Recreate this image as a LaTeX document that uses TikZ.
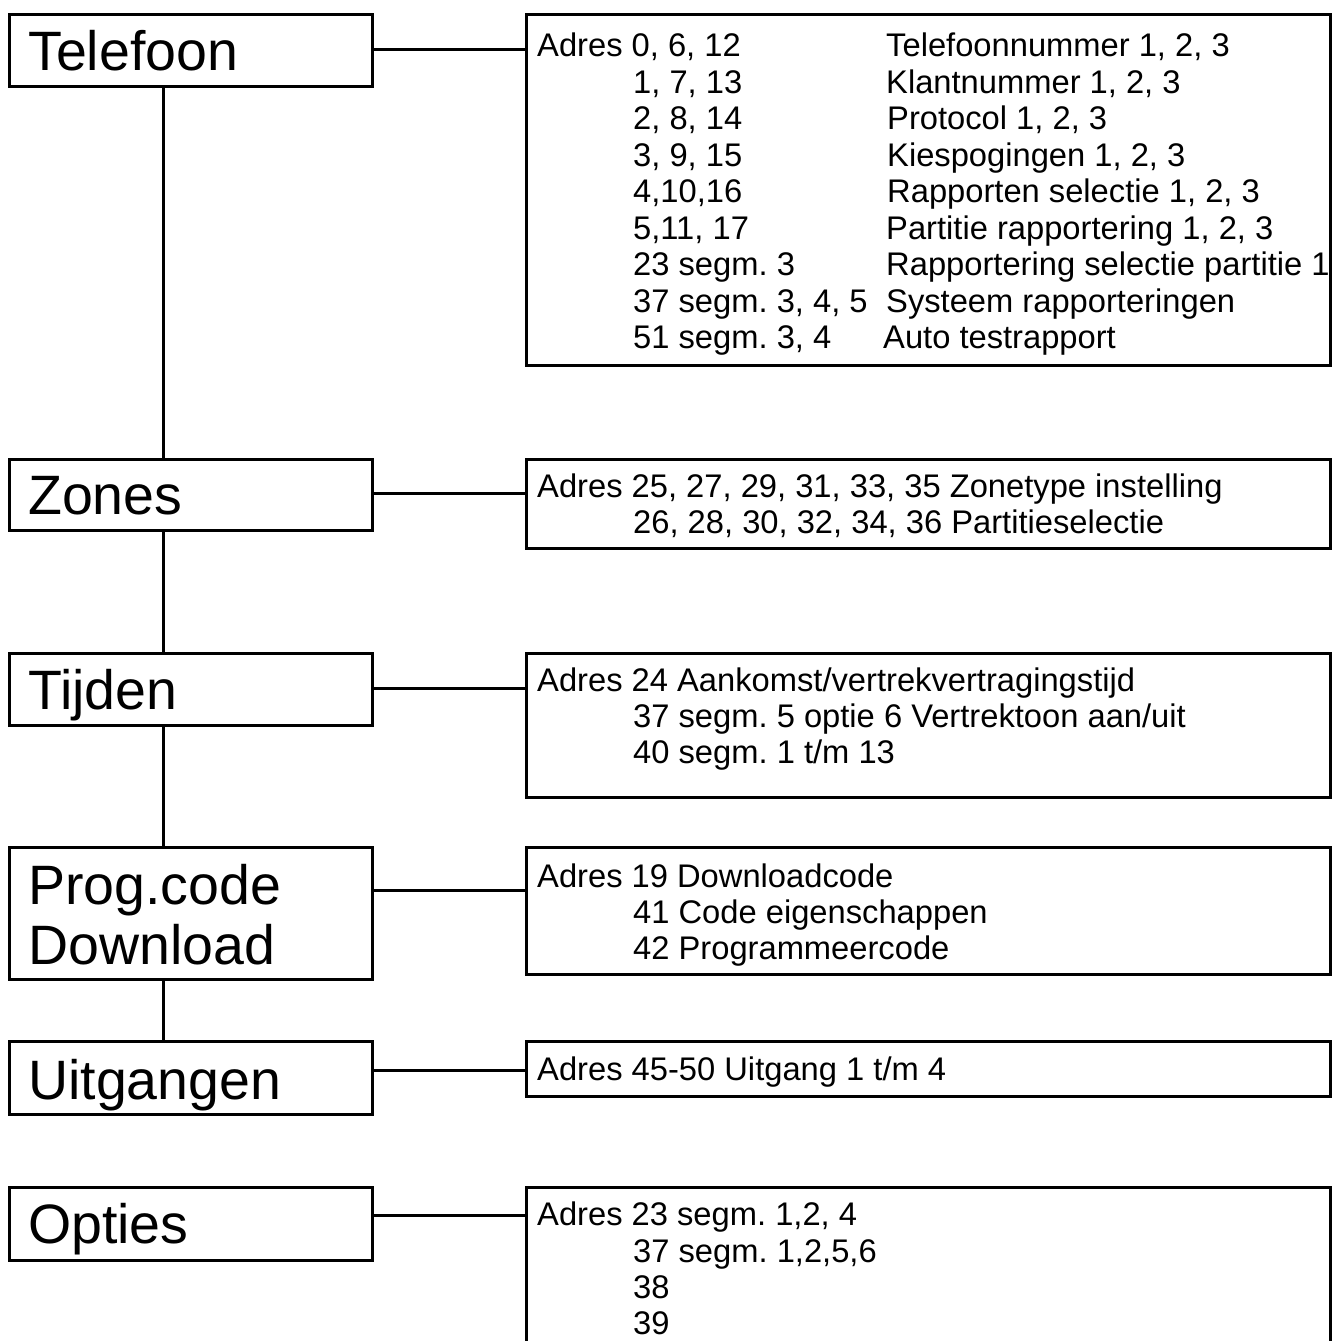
\documentclass[tikz,border=0pt]{standalone}
\usepackage{fontspec}
\setmainfont{Liberation Sans}
\frenchspacing
\begin{document}
\begin{tikzpicture}[x=1pt,y=-1pt,
  box/.style={draw,line width=3pt,inner sep=0pt,anchor=north west},
  conn/.style={line width=3pt},
  big/.style={font=\fontsize{55.5}{60}\selectfont,inner sep=0pt,anchor=base west},
  txt/.style={font=\fontsize{32.7}{36}\selectfont,inner sep=0pt,anchor=base west}]
\useasboundingbox[fill=white] (0,0) rectangle (1337,1341);
% left boxes
\node[box,minimum width=363pt,minimum height=72pt] (tel) at (8,13) {};
\node[box,minimum width=363pt,minimum height=71pt] (zon) at (8,458) {};
\node[box,minimum width=363pt,minimum height=72pt] (tij) at (8,652) {};
\node[box,minimum width=363pt,minimum height=132pt] (prg) at (8,846) {};
\node[box,minimum width=363pt,minimum height=73pt] (uit) at (8,1040) {};
\node[box,minimum width=363pt,minimum height=73pt] (opt) at (8,1186) {};
% right boxes
\node[box,minimum width=804pt,minimum height=351pt] (telr) at (525,13) {};
\node[box,minimum width=804pt,minimum height=89pt] (zonr) at (525,458) {};
\node[box,minimum width=804pt,minimum height=144pt] (tijr) at (525,652) {};
\node[box,minimum width=804pt,minimum height=127pt] (prgr) at (525,846) {};
\node[box,minimum width=804pt,minimum height=55pt] (uitr) at (525,1040) {};
\node[box,minimum width=804pt,minimum height=200pt] (optr) at (525,1186) {};
% left labels
\node[big] (ltel) at (28,70) {Telefoon};
\node[big] (lzon) at (28,514) {Zones};
\node[big] (ltij) at (28,709) {Tijden};
\node[big] (lprg1) at (28,904) {Prog.code};
\node[big] (lprg2) at (28,964) {Download};
\node[big] (luit) at (28,1099) {Uitgangen};
\node[big] (lopt) at (28,1243) {Opties};
% vertical connectors
\draw[conn] ([xshift=155pt]tel.south west) -- ([xshift=155pt]zon.north west);
\draw[conn] ([xshift=155pt]zon.south west) -- ([xshift=155pt]tij.north west);
\draw[conn] ([xshift=155pt]tij.south west) -- ([xshift=155pt]prg.north west);
\draw[conn] ([xshift=155pt]prg.south west) -- ([xshift=155pt]uit.north west);
% horizontal connectors
\draw[conn] ([yshift=-36pt]tel.north east) -- ([yshift=-36pt]telr.north west);
\draw[conn] ([yshift=-35pt]zon.north east) -- ([yshift=-35pt]zonr.north west);
\draw[conn] ([yshift=-36pt]tij.north east) -- ([yshift=-36pt]tijr.north west);
\draw[conn] ([yshift=-44pt]prg.north east) -- ([yshift=-44pt]prgr.north west);
\draw[conn] ([yshift=-30pt]uit.north east) -- ([yshift=-30pt]uitr.north west);
\draw[conn] ([yshift=-29pt]opt.north east) -- ([yshift=-29pt]optr.north west);
% Telefoon details
\node[txt] (t1a) at (537,56.5) {Adres 0, 6, 12};
\node[txt] (t2a) at (633,93) {1, 7, 13};
\node[txt] (t3a) at (633,129.5) {2, 8, 14};
\node[txt] (t4a) at (633,166) {3, 9, 15};
\node[txt] (t5a) at (633,202.5) {4,10,16};
\node[txt] (t6a) at (633,239) {5,11, 17};
\node[txt] (t7a) at (633,275.5) {23 segm. 3};
\node[txt] (t8a) at (633,312) {37 segm. 3, 4, 5};
\node[txt] (t9a) at (633,348.5) {51 segm. 3, 4};
\node[txt] (t1b) at (886,56.5) {Telefoonnummer 1, 2, 3};
\node[txt] (t2b) at (886,93) {Klantnummer 1, 2, 3};
\node[txt] (t3b) at (887,129.5) {Protocol 1, 2, 3};
\node[txt] (t4b) at (887,166) {Kiespogingen 1, 2, 3};
\node[txt] (t5b) at (887,202.5) {Rapporten selectie 1, 2, 3};
\node[txt] (t6b) at (886,239) {Partitie rapportering 1, 2, 3};
\node[txt] (t7b) at (886,275.5) {Rapportering selectie partitie 1};
\node[txt] (t8b) at (886,312) {Systeem rapporteringen};
\node[txt] (t9b) at (883,348.5) {Auto testrapport};
% Zones details
\node[txt] (z1) at (537,497.5) {Adres 25, 27, 29, 31, 33, 35 Zonetype instelling};
\node[txt] (z2) at (633,533.5) {26, 28, 30, 32, 34, 36 Partitieselectie};
% Tijden details
\node[txt] (j1) at (537,691) {Adres 24 Aankomst/vertrekvertragingstijd};
\node[txt] (j2) at (633,727) {37 segm. 5 optie 6 Vertrektoon aan/uit};
\node[txt] (j3) at (633,763) {40 segm. 1 t/m 13};
% Prog details
\node[txt] (p1) at (537,887.5) {Adres 19 Downloadcode};
\node[txt] (p2) at (633,923) {41 Code eigenschappen};
\node[txt] (p3) at (633,959) {42 Programmeercode};
% Uitgangen details
\node[txt] (u1) at (537,1080) {Adres 45-50 Uitgang 1 t/m 4};
% Opties details
\node[txt] (o1) at (537,1225) {Adres 23 segm. 1,2, 4};
\node[txt] (o2) at (633,1262) {37 segm. 1,2,5,6};
\node[txt] (o3) at (633,1298) {38};
\node[txt] (o4) at (633,1334) {39};
\end{tikzpicture}
\end{document}
